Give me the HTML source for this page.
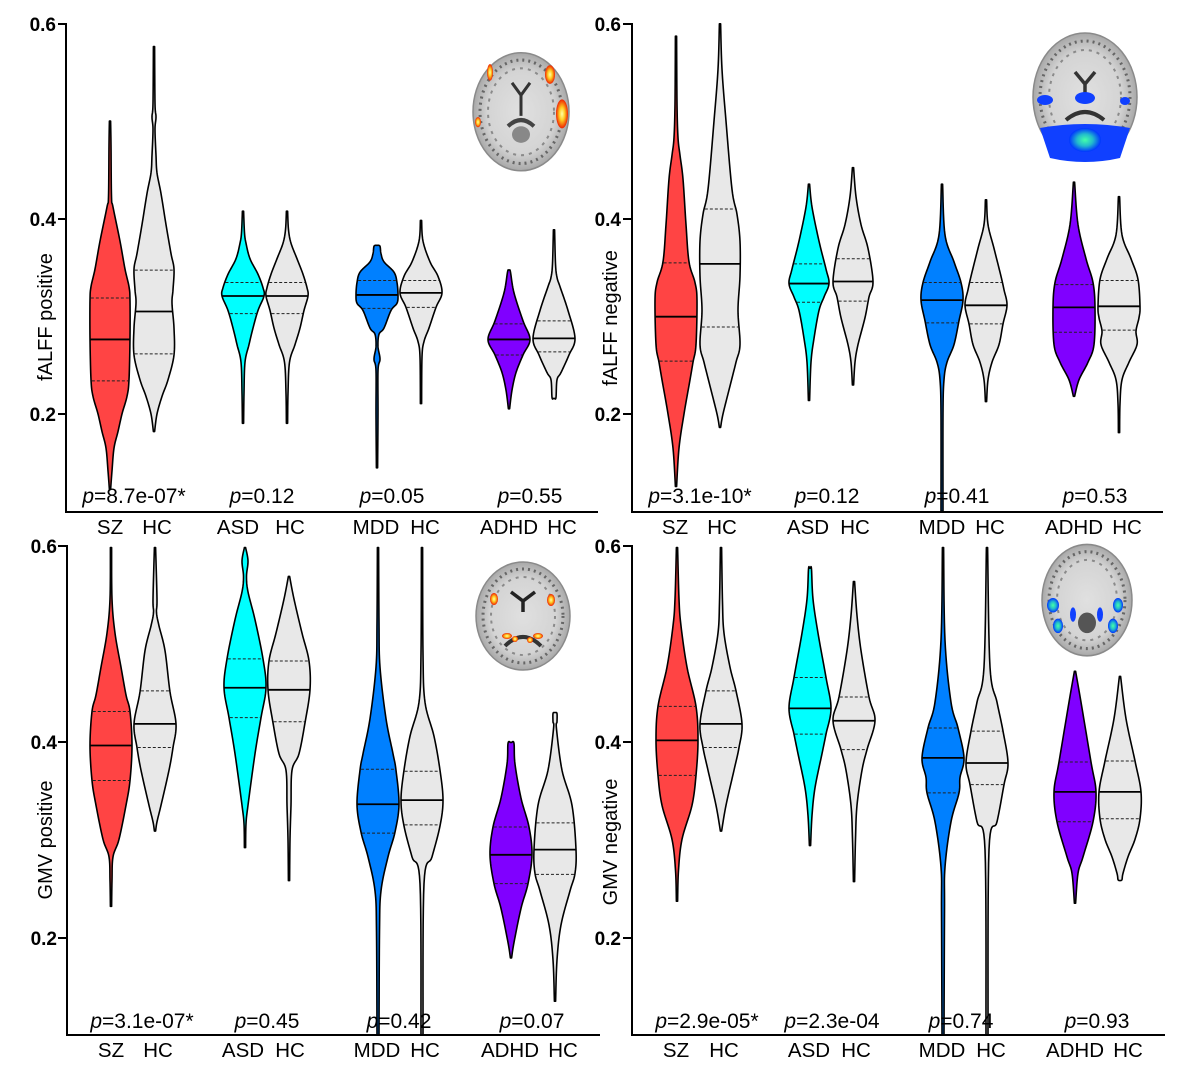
<!DOCTYPE html>
<html><head><meta charset="utf-8"><style>
html,body{margin:0;padding:0;background:#fff;}
svg{display:block;font-family:"Liberation Sans",Arial,sans-serif;}
</style></head><body>
<svg id="s" xmlns="http://www.w3.org/2000/svg" width="1181" height="1067" viewBox="0 0 1181 1067">
<rect width="1181" height="1067" fill="#fff"/>
<defs>
<radialGradient id="bg" cx="50%" cy="50%" r="50%"><stop offset="0" stop-color="#e0e0e0"/><stop offset="0.7" stop-color="#d4d4d4"/><stop offset="1" stop-color="#a8a8a8"/></radialGradient>
<radialGradient id="hot" cx="50%" cy="50%" r="50%"><stop offset="0" stop-color="#ffffaa"/><stop offset="0.45" stop-color="#ffcc22"/><stop offset="1" stop-color="#ee2200"/></radialGradient>
<radialGradient id="cold" cx="50%" cy="50%" r="50%"><stop offset="0" stop-color="#44ffaa"/><stop offset="0.5" stop-color="#22bbcc"/><stop offset="1" stop-color="#0033ff"/></radialGradient>
</defs>

<!-- Brains -->
<g id="brains">
 <!-- TL -->
 <g transform="scale(1,1.0349)">
  <ellipse cx="521" cy="108" rx="48" ry="57" fill="url(#bg)" stroke="#8a8a8a" stroke-width="1.5"/>
  <ellipse cx="521" cy="108" rx="41" ry="50" fill="none" stroke="#666" stroke-width="3" stroke-dasharray="2 4"/>
  <ellipse cx="521" cy="108" rx="33" ry="42" fill="none" stroke="#8a8a8a" stroke-width="2" stroke-dasharray="3 5"/>
  <path d="M512 80 L521 92 L530 80 M521 92 L521 112" stroke="#333" stroke-width="3" fill="none"/>
  <path d="M508 122 Q521 110 534 122" stroke="#444" stroke-width="4" fill="none"/>
  <ellipse cx="521" cy="130" rx="9" ry="8" fill="#888"/>
  <ellipse cx="490" cy="70" rx="3" ry="8" fill="url(#hot)"/>
  <ellipse cx="550" cy="72" rx="5" ry="9" fill="url(#hot)"/>
  <ellipse cx="562" cy="110" rx="6" ry="14" fill="url(#hot)"/>
  <ellipse cx="478" cy="118" rx="3" ry="5" fill="url(#hot)"/>
 </g>
 <!-- TR -->
 <g>
  <ellipse cx="1085" cy="97" rx="52" ry="64" fill="url(#bg)" stroke="#8a8a8a" stroke-width="1.5"/>
  <ellipse cx="1085" cy="97" rx="45" ry="56" fill="none" stroke="#666" stroke-width="3" stroke-dasharray="2 4"/>
  <ellipse cx="1085" cy="97" rx="36" ry="47" fill="none" stroke="#8a8a8a" stroke-width="2" stroke-dasharray="3 5"/>
  <path d="M1075 72 L1085 84 L1095 72 M1085 84 L1085 95" stroke="#333" stroke-width="3.5" fill="none"/>
  <path d="M1066 120 Q1085 104 1104 120" stroke="#333" stroke-width="4" fill="none"/>
  <path d="M1040 128 Q1085 120 1130 128 L1120 158 Q1085 166 1050 158 Z" fill="#1040ff"/>
  <ellipse cx="1085" cy="140" rx="16" ry="12" fill="url(#cold)"/>
  <ellipse cx="1045" cy="100" rx="8" ry="5" fill="#1040ff"/>
  <ellipse cx="1085" cy="98" rx="10" ry="6" fill="#1040ff"/>
  <ellipse cx="1125" cy="101" rx="5" ry="4" fill="#1040ff"/>
 </g>
 <!-- BL -->
 <g>
  <ellipse cx="523" cy="616" rx="47" ry="54" fill="url(#bg)" stroke="#8a8a8a" stroke-width="1.5"/>
  <ellipse cx="523" cy="616" rx="40" ry="47" fill="none" stroke="#666" stroke-width="3" stroke-dasharray="2 4"/>
  <ellipse cx="523" cy="616" rx="32" ry="39" fill="none" stroke="#8a8a8a" stroke-width="2" stroke-dasharray="3 5"/>
  <path d="M511 592 L523 601 L535 592 M523 601 L523 612" stroke="#222" stroke-width="3.5" fill="none"/>
  <path d="M505 646 Q523 628 541 646" stroke="#333" stroke-width="4" fill="none"/>
  <ellipse cx="494" cy="599" rx="4" ry="6" fill="url(#hot)"/>
  <ellipse cx="551" cy="600" rx="4" ry="6" fill="url(#hot)"/>
  <ellipse cx="507" cy="636" rx="5" ry="3" fill="url(#hot)"/>
  <ellipse cx="515" cy="639" rx="3" ry="3" fill="url(#hot)"/>
  <ellipse cx="530" cy="640" rx="3" ry="3" fill="url(#hot)"/>
  <ellipse cx="538" cy="636" rx="5" ry="3" fill="url(#hot)"/>
 </g>
 <!-- BR -->
 <g transform="translate(0,530) scale(1,1.0311) translate(0,-530)">
  <ellipse cx="1087" cy="598" rx="45" ry="54" fill="url(#bg)" stroke="#8a8a8a" stroke-width="1.5"/>
  <ellipse cx="1087" cy="598" rx="38" ry="47" fill="none" stroke="#666" stroke-width="3" stroke-dasharray="2 4"/>
  <ellipse cx="1087" cy="598" rx="30" ry="39" fill="none" stroke="#8a8a8a" stroke-width="2" stroke-dasharray="3 5"/>
  <ellipse cx="1087" cy="620" rx="9" ry="10" fill="#555"/>
  <ellipse cx="1053" cy="603" rx="6" ry="7" fill="url(#cold)"/>
  <ellipse cx="1058" cy="623" rx="5" ry="7" fill="url(#cold)"/>
  <ellipse cx="1073" cy="612" rx="3" ry="7" fill="#1040ff"/>
  <ellipse cx="1100" cy="612" rx="3" ry="7" fill="#1040ff"/>
  <ellipse cx="1118" cy="603" rx="5" ry="7" fill="url(#cold)"/>
  <ellipse cx="1113" cy="623" rx="5" ry="7" fill="url(#cold)"/>
 </g>
</g>

<g id="v"></g>

<!-- Axes -->
<g stroke="#000" stroke-width="2" fill="none">
 <path d="M66 23 L66 512 L598 512"/>
 <path d="M58 24 H66 M58 219 H66 M58 414 H66"/>
 <path d="M632 23 L632 512 L1163 512"/>
 <path d="M623 24 H632 M623 219 H632 M623 414 H632"/>
 <path d="M67 545 L67 1035 L600 1035"/>
 <path d="M58 546 H67 M58 742 H67 M58 938 H67"/>
 <path d="M632 545 L632 1035 L1165 1035"/>
 <path d="M623 546 H632 M623 742 H632 M623 938 H632"/>
</g>

<!-- Tick labels -->
<g font-size="19" font-weight="bold" text-anchor="end" fill="#000">
 <text x="56" y="31">0.6</text><text x="56" y="226">0.4</text><text x="56" y="421">0.2</text>
 <text x="621" y="31">0.6</text><text x="621" y="226">0.4</text><text x="621" y="421">0.2</text>
 <text x="57" y="553">0.6</text><text x="57" y="749">0.4</text><text x="57" y="945">0.2</text>
 <text x="621" y="553">0.6</text><text x="621" y="749">0.4</text><text x="621" y="945">0.2</text>
</g>

<!-- Axis titles -->
<g font-size="20" text-anchor="middle" fill="#000">
 <text transform="translate(52,317) rotate(-90)">fALFF positive</text>
 <text transform="translate(617,318) rotate(-90)">fALFF negative</text>
 <text transform="translate(52,840) rotate(-90)">GMV positive</text>
 <text transform="translate(617,842) rotate(-90)">GMV negative</text>
</g>

<!-- X labels -->
<g font-size="20.5" text-anchor="middle" fill="#000">
 <text x="110" y="534">SZ</text><text x="157" y="534">HC</text>
 <text x="238" y="534">ASD</text><text x="290" y="534">HC</text>
 <text x="376" y="534">MDD</text><text x="425" y="534">HC</text>
 <text x="509" y="534">ADHD</text><text x="562" y="534">HC</text>

 <text x="675" y="534">SZ</text><text x="722" y="534">HC</text>
 <text x="808" y="534">ASD</text><text x="855" y="534">HC</text>
 <text x="942" y="534">MDD</text><text x="990" y="534">HC</text>
 <text x="1074" y="534">ADHD</text><text x="1127" y="534">HC</text>

 <text x="111" y="1057">SZ</text><text x="158" y="1057">HC</text>
 <text x="243" y="1057">ASD</text><text x="290" y="1057">HC</text>
 <text x="377" y="1057">MDD</text><text x="425" y="1057">HC</text>
 <text x="510" y="1057">ADHD</text><text x="563" y="1057">HC</text>

 <text x="676" y="1057">SZ</text><text x="724" y="1057">HC</text>
 <text x="809" y="1057">ASD</text><text x="856" y="1057">HC</text>
 <text x="942" y="1057">MDD</text><text x="991" y="1057">HC</text>
 <text x="1075" y="1057">ADHD</text><text x="1128" y="1057">HC</text>
</g>

<!-- p-values -->
<g font-size="21" text-anchor="middle" fill="#000">
 <text x="134" y="503"><tspan font-style="italic">p</tspan>=8.7e-07*</text>
 <text x="262" y="503"><tspan font-style="italic">p</tspan>=0.12</text>
 <text x="392" y="503"><tspan font-style="italic">p</tspan>=0.05</text>
 <text x="530" y="503"><tspan font-style="italic">p</tspan>=0.55</text>

 <text x="700" y="503"><tspan font-style="italic">p</tspan>=3.1e-10*</text>
 <text x="827" y="503"><tspan font-style="italic">p</tspan>=0.12</text>
 <text x="957" y="503"><tspan font-style="italic">p</tspan>=0.41</text>
 <text x="1095" y="503"><tspan font-style="italic">p</tspan>=0.53</text>

 <text x="142" y="1028"><tspan font-style="italic">p</tspan>=3.1e-07*</text>
 <text x="267" y="1028"><tspan font-style="italic">p</tspan>=0.45</text>
 <text x="399" y="1028"><tspan font-style="italic">p</tspan>=0.42</text>
 <text x="532" y="1028"><tspan font-style="italic">p</tspan>=0.07</text>

 <text x="707" y="1028"><tspan font-style="italic">p</tspan>=2.9e-05*</text>
 <text x="832" y="1028"><tspan font-style="italic">p</tspan>=2.3e-04</text>
 <text x="961" y="1028"><tspan font-style="italic">p</tspan>=0.74</text>
 <text x="1097" y="1028"><tspan font-style="italic">p</tspan>=0.93</text>
</g>
</svg>
<script>
(function(){
var NS="http://www.w3.org/2000/svg";
var G=document.getElementById("v");
var SZ="#ff4444",ASD="#00ffff",MDD="#0080ff",ADHD="#8000ff",HC="#e8e8e8";
function T(y){ return y<530 ? y*1.0349 : 530+(y-530)*1.0311; }
function cr(p){
  var out=[],n=p.length;
  for(var i=0;i<n-1;i++){
    var p0=p[Math.max(i-1,0)],p1=p[i],p2=p[i+1],p3=p[Math.min(i+2,n-1)];
    for(var s=0;s<10;s++){
      var t=s/10,t2=t*t,t3=t2*t;
      var f=function(a,b,c,d){return 0.5*((2*b)+(-a+c)*t+(2*a-5*b+4*c-d)*t2+(-a+3*b-3*c+d)*t3);};
      out.push([f(p0[0],p1[0],p2[0],p3[0]),Math.max(0.4,f(p0[1],p1[1],p2[1],p3[1]))]);
    }
  }
  out.push(p[n-1]);
  return out;
}
function hwAt(d,y){
  for(var i=0;i<d.length-1;i++){var a=d[i],b=d[i+1];
    if(y>=Math.min(a[0],b[0])&&y<=Math.max(a[0],b[0])){var t=(y-a[0])/((b[0]-a[0])||1);return a[1]+t*(b[1]-a[1]);}}
  return 0;
}
function el(tag,attrs){var e=document.createElementNS(NS,tag);for(var k in attrs)e.setAttribute(k,attrs[k]);G.appendChild(e);return e;}
function V(cx,pts,fill,med,q1,q3){
  pts=pts.map(function(p){return [T(p[0]),p[1]];});
  med=T(med);q1=T(q1);q3=T(q3);
  var d=cr(pts);
  var s="M"+(cx+d[0][1]).toFixed(2)+","+d[0][0].toFixed(2);
  for(var i=1;i<d.length;i++) s+="L"+(cx+d[i][1]).toFixed(2)+","+d[i][0].toFixed(2);
  for(var i=d.length-1;i>=0;i--) s+="L"+(cx-d[i][1]).toFixed(2)+","+d[i][0].toFixed(2);
  s+="Z";
  el("path",{d:s,fill:fill,stroke:"#000","stroke-width":"1.6","stroke-linejoin":"round"});
  [q1,q3].forEach(function(q){var w=hwAt(d,q)-0.8;
    el("line",{x1:cx-w,x2:cx+w,y1:q,y2:q,stroke:"#222","stroke-width":"1","stroke-dasharray":"3 2"});});
  var w=hwAt(d,med)-0.5;
  el("line",{x1:cx-w,x2:cx+w,y1:med,y2:med,stroke:"#000","stroke-width":"1.8"});
}
/* TL */
V(110,[[117,0.6],[140,1],[190,1.5],[200,3],[233,10],[260,15],[277,19],[290,20],[327,20],[367,19],[383,17],[400,12],[417,8],[433,4],[455,2],[473,0.6]],SZ,328,288,368);
V(154,[[45,0.6],[100,1],[113,2],[125,1],[150,2],[167,3],[187,7],[217,12],[245,17],[260,20],[280,19],[293,18],[317,20],[343,20],[367,14],[383,8],[400,3],[417,0.6]],HC,301,261,342);
V(243,[[204,0.6],[225,1.5],[235,3],[250,7],[265,15],[278,20],[286,21],[300,15],[317,10],[333,6],[350,2],[380,1],[409,0.6]],ASD,286,273,303);
V(287,[[204,0.6],[222,1.5],[235,4],[250,10],[265,16],[278,20],[286,21],[300,17],[317,13],[333,8],[350,2.5],[380,1],[409,0.6]],HC,286,273,303);
V(377,[[237,0.5],[238,3],[245,4],[253,7],[263,17],[273,20],[285,21],[293,20],[300,14],[317,7],[323,2],[335,1],[347,3],[358,1],[400,1],[452,0.6]],MDD,285,271,298);
V(421,[[213,0.6],[233,2],[253,9],[267,17],[283,21],[297,15],[317,8],[330,3],[345,1],[390,0.6]],HC,283,271,297);
V(509,[[261,0.6],[263,1.5],[283,5],[310,14],[328,21],[343,14],[360,7],[377,3],[395,0.6]],ADHD,328,313,343);
V(554,[[222,0.6],[255,1.5],[268,3],[277,6],[300,14],[327,21],[343,15],[360,7],[367,3],[384,2],[385,0.5]],HC,327,310,340);
/* TR */
V(676,[[35,0.6],[100,1],[133,2],[150,4],[173,7],[217,10],[253,13],[273,19],[290,21],[333,20],[350,17],[367,14],[400,8],[433,3],[470,0.6]],SZ,306,254,349);
V(720,[[23,0.6],[67,2],[117,6],[183,12],[207,17],[233,20],[267,20],[300,18],[333,20],[350,16],[373,10],[400,3],[413,0.6]],HC,255,202,316);
V(809,[[178,0.6],[200,3],[233,10],[260,17],[274,20],[287,15],[300,10],[327,5],[350,2],[387,0.6]],ASD,274,255,292);
V(853,[[162,0.6],[190,3],[217,8],[240,15],[272,20],[287,16],[307,12],[333,5],[350,2],[372,0.6]],HC,272,250,291);
V(942,[[178,0.6],[227,3],[253,12],[273,19],[290,21],[310,17],[333,12],[350,5],[367,2],[400,1],[494,1]],MDD,290,273,312);
V(986,[[193,0.6],[217,2],[240,8],[267,15],[280,18],[295,21],[313,17],[333,13],[350,6],[367,2],[388,0.6]],HC,295,273,313);
V(1074,[[176,0.6],[217,4],[250,12],[273,19],[297,21],[333,20],[350,14],[367,5],[383,0.6]],ADHD,297,275,321);
V(1119,[[190,0.6],[227,3],[250,12],[270,19],[296,21],[307,20],[320,17],[333,18],[350,10],[367,3],[390,1],[418,0.6]],HC,296,271,319);
/* BL */
V(111,[[547,0.6],[597,1],[630,4],[663,10],[690,15],[706,19],[739,21],[773,19],[797,15],[830,8],[847,2],[870,1],[895,0.6]],SZ,739,706,773);
V(155,[[547,0.6],[597,2],[610,1.5],[623,4],[647,10],[687,15],[718,21],[741,18],[763,14],[797,6],[813,2],[822,0.6]],HC,718,686,741);
V(245,[[547,0.6],[560,3],[575,1.5],[590,3],[617,10],[655,18],[683,21],[712,16],[747,10],[797,3],[815,1],[838,0.6]],ASD,683,655,712);
V(289,[[575,0.6],[597,5],[630,13],[657,20],[685,21],[717,16],[747,10],[763,3],[797,2],[830,1],[870,0.6]],HC,685,657,716);
V(378,[[547,0.6],[620,1],[663,2],[713,8],[747,15],[763,18],[796,21],[823,17],[847,10],[880,3],[920,1.5],[1020,1]],MDD,796,762,824);
V(422,[[547,0.6],[650,1],[697,3],[730,12],[763,18],[792,21],[817,18],[847,10],[873,2],[1020,1]],HC,792,764,816);
V(511,[[736,0.5],[737,3],[757,4],[790,10],[818,18],[845,21],[873,17],[897,10],[930,3],[945,0.6]],ADHD,845,818,873);
V(555,[[707,0.5],[708,2],[716,2],[723,1.5],[763,7],[797,17],[840,21],[863,20],[880,15],[913,6],[947,2],[987,0.6]],HC,840,814,864);
/* BR */
V(677,[[547,0.6],[597,2],[623,4],[663,10],[701,19],[734,21],[768,19],[797,15],[830,5],[860,1.5],[890,0.6]],SZ,734,701,768);
V(721,[[547,0.6],[600,1.5],[630,3],[663,9],[686,15],[718,21],[741,18],[763,13],[797,5],[822,0.6]],HC,718,686,741);
V(810,[[567,0.5],[568,1.5],[597,3],[630,8],[673,16],[703,21],[728,16],[747,12],[780,5],[807,2],[836,0.6]],ASD,703,673,728);
V(854,[[580,0.6],[613,3],[647,7],[692,15],[715,21],[743,13],[763,8],[797,3],[830,1.5],[871,0.6]],HC,715,692,743);
V(943,[[547,0.6],[637,2],[697,8],[722,15],[751,21],[770,17],[785,16],[813,8],[857,2],[900,1.5],[1020,1]],MDD,751,722,785);
V(987,[[547,0.6],[663,3],[697,10],[725,16],[756,21],[777,17],[813,10],[840,2],[1020,1]],HC,756,725,777);
V(1075,[[667,0.6],[697,6],[755,16],[784,21],[813,18],[847,8],[863,3],[892,0.6]],ADHD,784,755,813);
V(1120,[[672,0.6],[713,6],[754,15],[784,21],[810,20],[830,15],[847,8],[863,3],[869,2],[870,0.5]],HC,784,754,810);
})();
</script>
</body></html>
